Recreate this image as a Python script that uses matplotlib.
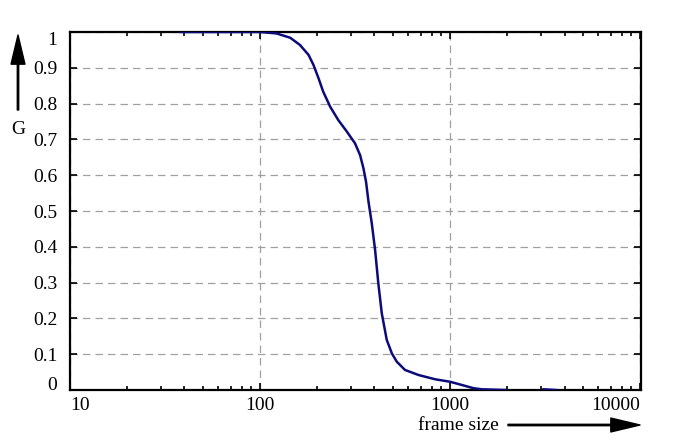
import matplotlib
matplotlib.use("Agg")
import matplotlib.pyplot as plt
import numpy as np
from matplotlib.ticker import LogLocator, NullFormatter

plt.rcParams['font.family'] = ['Liberation Serif', 'DejaVu Serif']
plt.rcParams['font.size'] = 14

# curve
frame = [38, 60, 100, 122, 144, 162, 180, 191, 203, 215, 234, 258, 286, 316, 336,
         350, 361, 372, 387, 403, 419, 437, 464, 494, 524, 579, 681, 833, 1000,
         1153, 1328, 1469, 1950]
g_val = [1.0, 1.0, 1.0, 0.996, 0.984, 0.964, 0.936, 0.908, 0.871, 0.833, 0.791,
         0.754, 0.722, 0.689, 0.656, 0.619, 0.582, 0.526, 0.466, 0.391, 0.298,
         0.214, 0.140, 0.102, 0.079, 0.056, 0.042, 0.030, 0.023, 0.014, 0.005,
         0.002, 0.0]
# small piece near the far end
tail_x = [3100, 3600]
tail_y = [0.002, 0.0]

yticks = [0, 0.1, 0.2, 0.3, 0.4, 0.5, 0.6, 0.7, 0.8, 0.9, 1]
ytick_labels = ['0', '0.1', '0.2', '0.3', '0.4', '0.5', '0.6', '0.7', '0.8', '0.9', '1']
xticks = [10, 100, 1000, 10000]
xtick_labels = ['10', '100', '1000', '10000']

fig = plt.figure(figsize=(6.89, 4.45), dpi=100)
ax = fig.add_axes([70/689, 55/445, 571/689, 358/445])

line_col = '#0b0b7a'
ax.plot(frame, g_val, color=line_col, lw=1.8, zorder=3, solid_joinstyle='round')
ax.plot(tail_x, tail_y, color=line_col, lw=1.8, zorder=3)

ax.set_xscale('log')
ax.set_xlim(10, 10100)
ax.set_ylim(0, 1)

ax.set_xticks(xticks)
ax.set_xticklabels(xtick_labels)
ax.xaxis.set_minor_locator(LogLocator(base=10, subs=np.arange(2, 10)))
ax.xaxis.set_minor_formatter(NullFormatter())
ax.set_yticks(yticks)
ax.set_yticklabels(ytick_labels)

xl = ax.get_xticklabels()
xl[0].set_ha('left')
xl[-1].set_ha('right')
yl = ax.get_yticklabels()
yl[0].set_va('baseline')
yl[-1].set_va('top')

ax.tick_params(which='both', direction='in', top=True, right=True, width=1.2)
ax.tick_params(which='major', length=5, pad=5)
ax.tick_params(which='minor', length=3)
ax.tick_params(axis='y', pad=9)

for s in ax.spines.values():
    s.set_linewidth(1.6)

ax.grid(True, which='major', color='#a0a0a0', linestyle=(0, (6, 4)), lw=0.9)

# axis names with arrows
fig.text(18/689, 1 - 130/445, 'G', ha='center', va='center')
ax.annotate('', xy=(18/689, 1 - 35/445), xytext=(18/689, 1 - 110/445),
            xycoords='figure fraction', textcoords='figure fraction',
            arrowprops=dict(width=1.0, headwidth=10, headlength=21, color='black'))
fig.text(458/689, 1 - 425/445, 'frame size', ha='center', va='center')
ax.annotate('', xy=(640/689, 1 - 425/445), xytext=(508/689, 1 - 425/445),
            xycoords='figure fraction', textcoords='figure fraction',
            arrowprops=dict(width=1.0, headwidth=10, headlength=21, color='black'))

fig.savefig('out.png', dpi=100)
